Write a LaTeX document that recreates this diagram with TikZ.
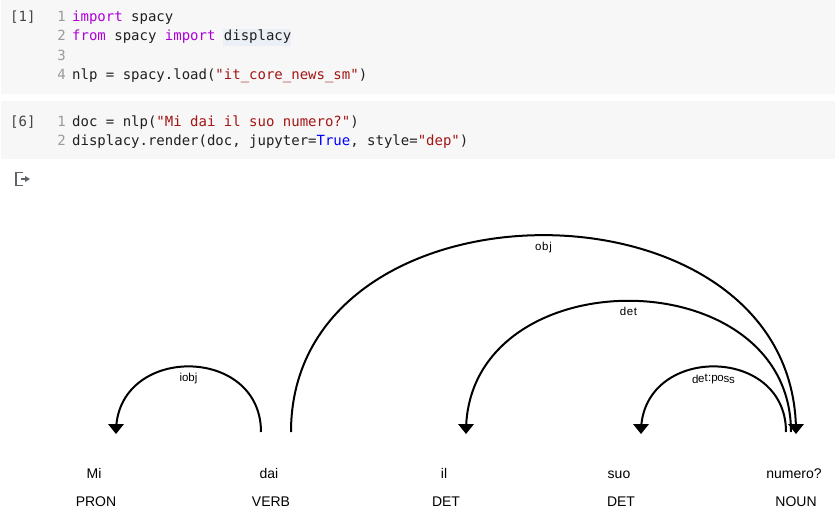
\documentclass[tikz,border=0pt]{standalone}
\usepackage{fontspec}
\setmainfont{Liberation Sans}
\setmonofont{DejaVu Sans Mono}
\usetikzlibrary{decorations.text}
\definecolor{cellbg}{HTML}{F7F7F7}
\definecolor{hl}{HTML}{EBF0F6}
\definecolor{kw}{HTML}{AF00DB}
\definecolor{str}{HTML}{A31515}
\definecolor{bool}{HTML}{0000FF}
\definecolor{lnum}{HTML}{9A9A9A}
\definecolor{prompt}{HTML}{444444}
\definecolor{codetxt}{HTML}{1F1F1F}
\definecolor{icon}{HTML}{5F6368}
\newcommand\labfont{\fontsize{11.5}{13}\selectfont}
\tikzset{
  code/.style={anchor=base west, inner sep=0pt, font=\ttfamily\fontsize{14}{16}\selectfont, text=codetxt},
  lno/.style={anchor=base east, inner sep=0pt, font=\ttfamily\fontsize{14}{16}\selectfont, text=lnum},
  prm/.style={anchor=base west, inner sep=0pt, font=\ttfamily\fontsize{14}{16}\selectfont, text=prompt},
  word/.style={anchor=base, inner sep=0pt, font=\fontsize{14}{16}\selectfont, text=black},
  arc/.style={draw=black, line width=2pt},
  tip/.style={fill=black, draw=none},
  arclabel/.style={postaction={decorate, decoration={text effects along path, text={#1}, text align=center, raise=-15pt,
    text effects/.cd, characters={font=\labfont, text=black, inner xsep=0.5pt, inner ysep=0pt, anchor=base},
    character widths={font=\labfont, inner xsep=0.5pt}}}},
}
\begin{document}
\begin{tikzpicture}[x=1pt,y=-1pt]
\useasboundingbox (0,0) rectangle (835,527);
\fill[white] (0,0) rectangle (835,527);
% cells
\fill[cellbg] (1,0) rectangle (835,94);
\fill[cellbg] (1,101) rectangle (835,159);
\fill[hl] (223,29) rectangle (291,46);
% cell 1
\node[prm] (p1) at (10,22) {[1]};
\node[lno] (n11) at (66,22) {1};
\node[lno] (n12) at (66,41) {2};
\node[lno] (n13) at (66,60) {3};
\node[lno] (n14) at (66,79) {4};
\node[code] (c11) at (72,22) {\textcolor{kw}{import} spacy};
\node[code] (c12) at (72,41) {\textcolor{kw}{from} spacy \textcolor{kw}{import} displacy};
\node[code] (c14) at (72,79) {nlp = spacy.load(\textcolor{str}{"it\_core\_news\_sm"})};
% cell 2
\node[prm] (p2) at (10,126) {[6]};
\node[lno] (n21) at (66,126) {1};
\node[lno] (n22) at (66,145) {2};
\node[code] (c21) at (72,126) {doc = nlp(\textcolor{str}{"Mi dai il suo numero?"})};
\node[code] (c22) at (72,145) {displacy.render(doc, jupyter=\textcolor{bool}{True}, style=\textcolor{str}{"dep"})};
% output icon
\coordinate (ic1) at (23,172.5);
\coordinate (ic2) at (23,185.5);
\draw[icon, line width=1.5pt] (ic1) -- (16,172.5) -- (16,185.5) -- (ic2);
\coordinate (ia) at (21,179);
\coordinate (ib) at (26,179);
\draw[icon, line width=1.1pt] (ia) -- (ib);
\fill[icon] (25,176) -- (30,179) -- (25,182) -- cycle;
% words and tags
\node[word] (w1) at (94,478) {Mi};
\node[word] (w2) at (269,478) {dai};
\node[word] (w3) at (444,478) {il};
\node[word] (w4) at (619,478) {suo};
\node[word] (w5) at (794,478) {numero?};
\node[word] (t1) at (96,506) {PRON};
\node[word] (t2) at (271,506) {VERB};
\node[word] (t3) at (446,506) {DET};
\node[word] (t4) at (621,506) {DET};
\node[word] (t5) at (796,506) {NOUN};
% arc end points
\coordinate (iobjL) at (116,432);
\coordinate (iobjR) at (261,432);
\coordinate (objL) at (291,432);
\coordinate (objR) at (796,432);
\coordinate (detL) at (466,432);
\coordinate (detR) at (791,432);
\coordinate (possL) at (641,432);
\coordinate (possR) at (786,432);
% arcs
\draw[arc, arclabel={iobj}]
  (iobjL) .. controls +(0,-87.5) and +(0,-87.5) .. (iobjR);
\draw[arc, arclabel={det:poss}]
  (possL) .. controls +(0,-87.5) and +(0,-87.5) .. (possR);
\draw[arc, arclabel={det}]
  (detL) .. controls +(0,-175) and +(0,-175) .. (detR);
\draw[arc, arclabel={obj}]
  (objL) .. controls +(0,-262.5) and +(0,-262.5) .. (objR);
% arrowheads
\fill[tip] (116,434) -- (108,424) -- (124,424) -- cycle;
\fill[tip] (641,434) -- (633,424) -- (649,424) -- cycle;
\fill[tip] (466,434) -- (458,424) -- (474,424) -- cycle;
\fill[tip] (796,434) -- (788,424) -- (804,424) -- cycle;
\end{tikzpicture}
\end{document}
